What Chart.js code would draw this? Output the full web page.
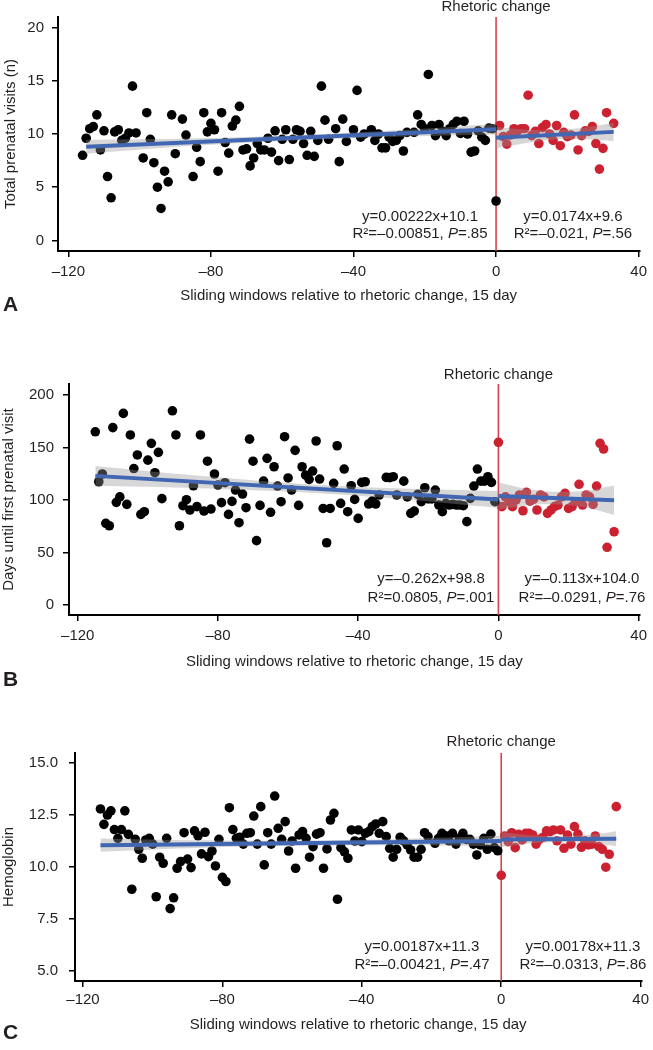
<!DOCTYPE html>
<html><head><meta charset="utf-8">
<script src="https://cdn.jsdelivr.net/npm/chart.js@4.4.1/dist/chart.umd.min.js"></script>
<style>
html,body{margin:0;padding:0;background:#fff;width:653px;height:1050px;overflow:hidden}
.p{position:absolute;left:0;width:653px;height:350px}
canvas{display:block}
</style></head><body>
<div class="p" style="top:0"><canvas id="cA" width="653" height="350"></canvas></div>
<div class="p" style="top:350px"><canvas id="cB" width="653" height="350"></canvas></div>
<div class="p" style="top:700px"><canvas id="cC" width="653" height="350"></canvas></div>
<script>
// ---------- shared tick labels ----------
const xTicks = [-120, -80, -40, 0, 40];
const xTickLabels = ['–120', '–80', '–40', '0', '40'];
const xTitle = 'Sliding windows relative to rhetoric change, 15 day';
const eventLabel = 'Rhetoric change';

// ---------- Panel A: total prenatal visits ----------
const aBlackX = [-116,-115,-114,-113,-112,-111,-110,-109,-108,-107,-106,-105,-104,-103,-102,-101,-99,-98,-97,-96,-95,-94,-93,-92,-91,-90,-88,-87,-85,-84,-83,-82,-81,-80,-79,-78,-77,-76,-75,-74,-73,-72,-71,-70,-69,-68,-67,-66,-65,-64,-63,-62,-61,-60,-59,-58,-57,-56,-55,-54,-53,-52,-51,-50,-49,-48,-47,-45,-44,-43,-42,-40,-39,-38,-37,-35,-34,-33,-32,-31,-30,-29,-28,-27,-26,-25,-23,-22,-21,-20,-19,-18,-17,-16,-15,-14,-13,-12,-11,-10,-9,-8,-7,-6,-5,-4,-3,-2,-1,0];
const aBlackY = [8.0,9.6,10.5,10.7,11.8,8.5,10.3,6.0,4.0,10.2,10.4,9.4,9.6,10.1,14.5,10.1,7.75,12.0,9.5,7.3,5.0,3.0,6.5,5.5,11.8,8.15,11.4,9.9,6.0,8.75,7.4,12.0,10.2,11.0,10.4,6.5,12.0,9.2,8.2,10.75,11.3,12.6,8.5,8.6,7.0,7.75,9.1,8.5,8.5,9.6,8.3,10.3,7.5,9.5,10.4,7.6,9.5,10.4,10.25,9.1,8.0,10.25,7.9,9.4,14.5,11.3,9.5,10.5,7.4,11.4,9.3,10.4,14.1,9.7,10.0,10.4,9.4,10.0,8.7,8.7,9.7,9.3,9.4,9.85,8.4,10.15,10.15,11.8,10.9,10.5,15.6,10.8,9.85,10.9,10.25,9.85,10.5,10.9,11.2,10.05,11.2,10.0,8.3,8.4,10.3,9.7,9.4,10.55,10.5,3.7];
const aRedX = [1,2,3,4,5,6,7,8,9,10,11,12,13,14,15,16,17,18,19,20,21,22,23,24,25,26,27,28,29,30,31,33];
const aRedY = [10.8,9.75,9.05,9.9,10.5,10.3,10.5,10.5,13.65,9.85,10.25,9.1,10.6,10.9,10.0,9.4,10.8,8.9,10.15,9.75,9.9,11.8,8.5,9.85,10.3,10.25,10.7,9.1,6.7,8.65,12.0,11.0];
const aFitBlackX = [-115, 0], aFitBlackY = [8.8, 10.45];
const aFitRedX = [0, 33], aFitRedY = [9.65, 10.2];
const aBandBlackX = [-115,-86,-57,-29,0], aBandBlackLo = [8.15,8.87,9.38,9.73,9.95], aBandBlackHi = [9.45,9.57,9.88,10.33,10.95];
const aBandRedX = [0,8,16,25,33], aBandRedLo = [8.65,9.13,9.47,9.51,9.35], aBandRedHi = [10.65,10.43,10.37,10.61,11.05];
const aYTicks = [0,5,10,15,20], aYTickLabels = ['0','5','10','15','20'];
const aYTitle = 'Total prenatal visits (n)';
const aEq = ['y=0.00222x+10.1', 'y=0.0174x+9.6'];
const aR2 = ['R²=–0.00851, ', 'R²=–0.021, '];
const aP = ['=.85', '=.56'];

// ---------- Panel B: days until first prenatal visit ----------
const bBlackX = [-115,-114,-113,-112,-111,-110,-109,-108,-107,-106,-105,-104,-103,-102,-101,-100,-99,-98,-97,-96,-93,-92,-91,-90,-89,-88,-87,-86,-85,-84,-83,-82,-81,-80,-79,-78,-77,-76,-75,-74,-73,-72,-71,-70,-69,-68,-67,-66,-65,-64,-63,-62,-61,-60,-59,-58,-57,-56,-55,-54,-53,-52,-51,-50,-49,-48,-47,-46,-45,-44,-43,-42,-41,-40,-39,-38,-37,-36,-35,-34,-32,-31,-30,-29,-27,-26,-25,-24,-23,-22,-21,-20,-19,-18,-17,-16,-15,-14,-13,-12,-11,-10,-9,-8,-7,-6,-5,-4,-3,-2,-1];
const bBlackY = [165,117.4,124.8,77.8,75.5,169,97.8,103,182.5,95.9,162,130,142.9,86.3,88.9,138,154,126,145.4,101.3,185,162,75.5,94.6,100.3,90.5,113.6,93.7,162,89.5,137,91.4,124.8,114.3,97.5,116.5,86.3,98.7,109.5,78.4,105.7,92.7,158,137,61.3,94.9,118,139.7,88.3,131.7,113.3,98.4,160.3,121,109.5,147.3,94.9,131.7,123.8,119.7,127.6,156.2,120,92,59.3,92,115.9,151.7,96.8,129.5,88.9,113.6,100.6,82.5,116.8,117.4,96.2,99,96.2,104.8,121.6,121.3,122.2,104.8,118,102.9,87.3,89.5,105.4,98.4,111.7,101,101,109.5,95.2,88.9,96.8,95.2,95.9,95.2,95.2,94.6,79.4,101.6,113.3,129.5,118,118,122.2,116.8,98.4];
const bRedX = [0,1,2,3,4,5,6,7,8,9,10,11,12,13,14,15,16,17,18,19,20,21,22,23,24,25,26,27,28,29,30,31,33];
const bRedY = [155,93.7,103,98.4,93.7,100,104.8,89.8,107.3,99,100.6,90.5,104.8,103,87.3,90.5,93.7,95.2,103,106.3,92,93.7,98.4,115,95.2,104.8,103,95.9,113.3,154,148.6,55,69.8];
const bFitBlackX = [-115, 0], bFitBlackY = [123, 100.5];
const bFitRedX = [0, 33], bFitRedY = [103.8, 99.8];
const bBandBlackX = [-115,-86,-57,-29,0], bBandBlackLo = [113.5,111.3,107.6,101.2,92.5], bBandBlackHi = [132.5,123.3,115.6,111.2,108.5];
const bBandRedX = [0,8,16,25,33], bBandRedLo = [90.8,94.8,95.9,92.8,85.8], bBandRedHi = [116.8,110.8,107.9,108.8,113.8];
const bYTicks = [0,50,100,150,200], bYTickLabels = ['0','50','100','150','200'];
const bYTitle = 'Days until first prenatal visit';
const bEq = ['y=–0.262x+98.8', 'y=–0.113x+104.0'];
const bR2 = ['R²=0.0805, ', 'R²=–0.0291, '];
const bP = ['=.001', '=.76'];

// ---------- Panel C: hemoglobin ----------
const cBlackX = [-115,-114,-113,-112,-111,-110,-109,-108,-107,-106,-105,-104,-103,-102,-101,-100,-99,-98,-97,-96,-95,-94,-93,-92,-91,-90,-89,-88,-87,-86,-85,-84,-83,-82,-81,-80,-79,-78,-77,-76,-75,-74,-73,-72,-71,-70,-69,-68,-67,-66,-65,-64,-63,-62,-61,-60,-59,-58,-57,-56,-55,-54,-53,-52,-51,-50,-49,-48,-47,-46,-45,-44,-43,-42,-41,-40,-39,-38,-37,-36,-35,-34,-33,-32,-31,-30,-29,-28,-27,-26,-25,-24,-23,-22,-21,-19,-18,-17,-16,-15,-14,-13,-12,-11,-10,-9,-8,-7,-6,-5,-4,-3,-2,-1];
const cBlackY = [12.79,12.05,12.5,12.7,11.8,11.38,11.8,12.7,11.57,8.93,11.33,10.85,10.42,11.3,11.38,11.1,8.57,10.47,10.18,11.38,8.0,8.52,9.94,10.26,11.65,10.38,9.97,11.74,11.5,10.63,11.67,10.5,10.77,10.05,11.33,9.5,9.3,12.85,11.8,11.38,11.43,11.1,11.62,11.65,12.45,11.1,12.9,10.1,11.65,11.1,13.41,11.86,11.33,12.18,10.77,11.25,9.94,11.54,11.7,11.38,10.47,10.98,11.58,11.65,9.94,10.87,12.26,12.58,8.45,10.93,10.73,10.42,11.78,11.25,11.78,11.22,11.62,11.7,11.94,12.07,11.62,12.18,11.46,10.9,10.47,10.85,11.43,11.26,11.06,10.82,10.47,10.47,10.85,11.65,11.46,11.14,11.38,11.62,11.5,11.26,11.62,11.1,11.38,11.62,11.33,11.33,11.1,10.58,11.06,11.38,10.85,11.58,10.93,10.78];
const cRedX = [0,1,2,3,4,5,6,7,8,9,10,11,12,13,14,15,16,17,18,19,20,21,22,23,24,25,26,27,28,29,30,31,33];
const cRedY = [9.6,11.49,11.22,11.65,10.93,11.57,11.3,11.62,11.62,11.54,11.1,11.33,11.43,11.74,11.7,11.78,11.26,11.78,10.9,11.54,11.1,11.94,11.58,10.95,11.26,11.06,11.1,11.49,10.98,10.85,9.99,10.61,12.9];
const cFitBlackX = [-115, 0], cFitBlackY = [11.05, 11.25];
const cFitRedX = [0, 33], cFitRedY = [11.32, 11.36];
const cBandBlackX = [-115,-86,-57,-29,0], cBandBlackLo = [10.73,10.92,11.03,11.05,11.0], cBandBlackHi = [11.37,11.28,11.27,11.35,11.5];
const cBandRedX = [0,8,16,25,33], cBandRedLo = [10.96,11.13,11.19,11.15,11.0], cBandRedHi = [11.68,11.53,11.49,11.55,11.72];
const cYTicks = [5,7.5,10,12.5,15], cYTickLabels = ['5.0','7.5','10.0','12.5','15.0'];
const cYTitle = 'Hemoglobin';
const cEq = ['y=0.00187x+11.3', 'y=0.00178x+11.3'];
const cR2 = ['R²=–0.00421, ', 'R²=–0.0313, '];
const cP = ['=.47', '=.86'];

// ---------- rendering ----------
const FONT = "'Liberation Sans', Arial, Helvetica, sans-serif";
const TXT = '#231f20';
const BLACK_PT = '#000000', RED_PT = '#cc2131', FIT = '#4267b2', BAND = 'rgba(150,150,150,0.38)', VLINE = '#d4424f';
Chart.defaults.font.family = FONT;

const zip = (xs, ys) => xs.map((x, i) => ({x, y: ys[i]}));

function makePanel(p) {
  const H = 350;
  const pts = (xs, ys, c) => ({type: 'scatter', data: zip(xs, ys), backgroundColor: c, borderWidth: 0, pointRadius: 4.8, order: 3});
  const fit = (xs, ys) => ({type: 'line', data: zip(xs, ys), borderColor: FIT, borderWidth: 4, pointRadius: 0, fill: false, order: 1});
  const lo = (xs, ys) => ({type: 'line', data: zip(xs, ys), borderWidth: 0, borderColor: 'rgba(0,0,0,0)', pointRadius: 0, fill: false, tension: 0.3, order: 2});
  const hi = (xs, ys) => ({type: 'line', data: zip(xs, ys), borderWidth: 0, borderColor: 'rgba(0,0,0,0)', pointRadius: 0, fill: '-1', backgroundColor: BAND, tension: 0.3, order: 2});
  const datasets = [
    pts(p.bx, p.by, BLACK_PT), pts(p.rx, p.ry, RED_PT),
    lo(p.bbX, p.bbLo), hi(p.bbX, p.bbHi),
    lo(p.brX, p.brLo), hi(p.brX, p.brHi),
    fit(p.fbX, p.fbY), fit(p.frX, p.frY)
  ];
  const overlay = {
    id: 'overlay' + p.letter,
    beforeDatasetsDraw(chart) {
      const {ctx, chartArea, scales} = chart;
      const x0 = scales.x.getPixelForValue(0);
      ctx.save();
      ctx.strokeStyle = VLINE; ctx.lineWidth = 1.6;
      ctx.beginPath(); ctx.moveTo(x0, chartArea.top); ctx.lineTo(x0, chartArea.bottom); ctx.stroke();
      ctx.restore();
    },
    afterDraw(chart) {
      const {ctx, scales} = chart;
      const x0 = scales.x.getPixelForValue(0);
      ctx.save();
      ctx.fillStyle = TXT; ctx.textBaseline = 'middle';
      ctx.font = '15px ' + FONT; ctx.textAlign = 'center';
      ctx.fillText(eventLabel, x0, p.evY);
      for (let i = 0; i < 2; i++) {
        const cx = p.annX[i];
        ctx.font = '15px ' + FONT; ctx.textAlign = 'center';
        ctx.fillText(p.eq[i], cx, p.annY[0]);
        const f = '15px ' + FONT, fi = 'italic 15px ' + FONT;
        ctx.font = f; const w1 = ctx.measureText(p.r2[i]).width;
        ctx.font = fi; const w2 = ctx.measureText('P').width;
        ctx.font = f; const w3 = ctx.measureText(p.pv[i]).width;
        let x = cx - (w1 + w2 + w3) / 2;
        ctx.textAlign = 'left';
        ctx.font = f; ctx.fillText(p.r2[i], x, p.annY[1]); x += w1;
        ctx.font = fi; ctx.fillText('P', x, p.annY[1]); x += w2;
        ctx.font = f; ctx.fillText(p.pv[i], x, p.annY[1]);
      }
      ctx.font = 'bold 21px ' + FONT; ctx.textAlign = 'left';
      ctx.fillText(p.letter, 3, p.letterY);
      ctx.restore();
    }
  };
  const axisCommon = {
    grid: {display: true, drawOnChartArea: false, drawTicks: true, tickLength: 6, color: '#000', lineWidth: 1.5},
    border: {display: true, color: '#000', width: 2}
  };
  new Chart(document.getElementById(p.id), {
    data: {datasets},
    plugins: [overlay],
    options: {
      responsive: false, animation: false, events: [],
      layout: {padding: {top: p.area.top, right: 653 - p.area.right, left: 0, bottom: 0}},
      plugins: {legend: {display: false}, tooltip: {enabled: false}},
      scales: {
        x: Object.assign({}, axisCommon, {
          type: 'linear', min: p.xMin, max: p.xMax,
          afterBuildTicks: s => { s.ticks = xTicks.map(v => ({value: v})); },
          afterFit: s => { s.height = H - p.area.bottom; },
          ticks: {color: TXT, font: {size: 15}, padding: p.xTickPad, maxRotation: 0, autoSkip: false,
                  callback: (v) => xTickLabels[xTicks.indexOf(v)]},
          title: {display: true, text: xTitle, color: TXT, font: {size: 15}, padding: {top: 0, bottom: p.xTitleBottom}}
        }),
        y: Object.assign({}, axisCommon, {
          type: 'linear', min: p.yMin, max: p.yMax,
          afterBuildTicks: s => { s.ticks = p.yTicks.map(v => ({value: v})); },
          afterFit: s => { s.width = p.area.left; },
          ticks: {color: TXT, font: {size: 15}, padding: p.yTickPad, autoSkip: false,
                  callback: (v) => p.yTickLabels[p.yTicks.indexOf(v)]},
          title: {display: true, text: p.yTitle, color: TXT, font: {size: 15}, padding: {top: p.yTitleTop, bottom: 0}}
        })
      }
    }
  });
}

makePanel({id: 'cA', letter: 'A', letterY: 305,
  area: {left: 58, right: 645, top: 15, bottom: 251}, xMin: -122.9, xMax: 40.2, yMin: -1.0, yMax: 21.0,
  xTickPad: 6, xTitleBottom: 45, yTickPad: 8, yTitleTop: 2,
  yTicks: aYTicks, yTickLabels: aYTickLabels, yTitle: aYTitle,
  bx: aBlackX, by: aBlackY, rx: aRedX, ry: aRedY,
  fbX: aFitBlackX, fbY: aFitBlackY, frX: aFitRedX, frY: aFitRedY,
  bbX: aBandBlackX, bbLo: aBandBlackLo, bbHi: aBandBlackHi, brX: aBandRedX, brLo: aBandRedLo, brHi: aBandRedHi,
  evY: 7, annX: [420, 573], annY: [217, 234], eq: aEq, r2: aR2, pv: aP});

makePanel({id: 'cB', letter: 'B', letterY: 330,
  area: {left: 69, right: 645, top: 34, bottom: 265}, xMin: -122.5, xMax: 40.3, yMin: -9.5, yMax: 210.5,
  xTickPad: 6, xTitleBottom: 29, yTickPad: 9, yTitleTop: 0,
  yTicks: bYTicks, yTickLabels: bYTickLabels, yTitle: bYTitle,
  bx: bBlackX, by: bBlackY, rx: bRedX, ry: bRedY,
  fbX: bFitBlackX, fbY: bFitBlackY, frX: bFitRedX, frY: bFitRedY,
  bbX: bBandBlackX, bbLo: bBandBlackLo, bbHi: bBandBlackHi, brX: bBandRedX, brLo: bBandRedLo, brHi: bBandRedHi,
  evY: 25, annX: [431, 582], annY: [229, 248], eq: bEq, r2: bR2, pv: bP});

makePanel({id: 'cC', letter: 'C', letterY: 333,
  area: {left: 75, right: 645, top: 53, bottom: 281}, xMin: -122.3, xMax: 40.2, yMin: 4.52, yMax: 15.48,
  xTickPad: 4, xTitleBottom: 16, yTickPad: 11, yTitleTop: 0,
  yTicks: cYTicks, yTickLabels: cYTickLabels, yTitle: cYTitle,
  bx: cBlackX, by: cBlackY, rx: cRedX, ry: cRedY,
  fbX: cFitBlackX, fbY: cFitBlackY, frX: cFitRedX, frY: cFitRedY,
  bbX: cBandBlackX, bbLo: cBandBlackLo, bbHi: cBandBlackHi, brX: cBandRedX, brLo: cBandRedLo, brHi: cBandRedHi,
  evY: 42, annX: [422, 583], annY: [247, 265], eq: cEq, r2: cR2, pv: cP});
</script>
</body></html>
